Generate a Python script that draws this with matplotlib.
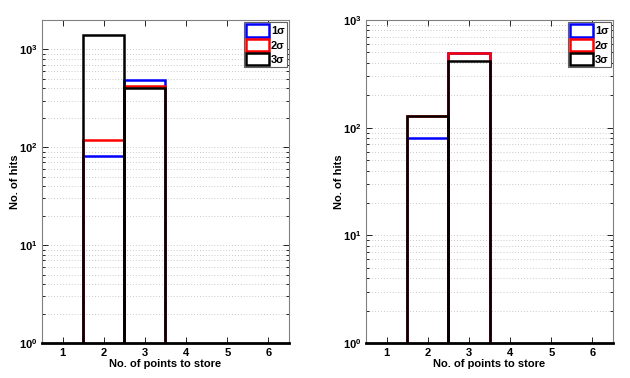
import math

import matplotlib

matplotlib.use("Agg")
import matplotlib.pyplot as plt
from matplotlib.ticker import FuncFormatter, LogLocator

plt.rcParams["font.family"] = ["Liberation Sans", "DejaVu Sans"]
plt.rcParams["font.weight"] = "bold"
plt.rcParams["mathtext.fontset"] = "custom"
plt.rcParams["mathtext.bf"] = "Liberation Sans:bold"
plt.rcParams["mathtext.rm"] = "Liberation Sans:bold"

bins = [1, 2, 3, 4, 5, 6]
labels = ["1\u03c3", "2\u03c3", "3\u03c3"]
colors = ["#0000ff", "#ff0000", "#000000"]

# left panel: hits per number of stored points
left_1s = [0, 81, 490, 0, 0, 0]
left_2s = [0, 118, 427, 0, 0, 0]
left_3s = [0, 1410, 400, 0, 0, 0]

# right panel
right_1s = [0, 80, 497, 0, 0, 0]
right_2s = [0, 129, 497, 0, 0, 0]
right_3s = [0, 129, 414, 0, 0, 0]

W, H = 630, 378
fig = plt.figure(figsize=(6.3, 3.78), dpi=100)
ax_l = fig.add_axes([42 / W, 1 - 343 / H, 247 / W, 323 / H])
ax_r = fig.add_axes([366 / W, 1 - 343 / H, 247 / W, 323 / H])


def draw(ax, series, ytop):
    for vals, lab, c in zip(series, labels, colors):
        ax.bar(bins, vals, width=1, fill=False, edgecolor=c, linewidth=1.8, label=lab)
    ax.set_yscale("log")
    ax.set_xlim(0.5, 6.5)
    ax.set_ylim(1, ytop)
    ax.set_xticks(bins)
    ax.yaxis.set_major_locator(LogLocator(base=10))
    ax.yaxis.set_minor_locator(LogLocator(base=10, subs=range(2, 10)))
    ax.yaxis.set_major_formatter(
        FuncFormatter(lambda v, p: r"$\mathbf{10^{%d}}$" % round(math.log10(v))))
    ax.yaxis.grid(True, which="both", linestyle=(0, (1, 2.5)), color="#b8b8b8", linewidth=0.6)
    ax.set_axisbelow(True)
    ax.tick_params(which="both", direction="in", top=True, right=True, labelsize=8,
                   colors="#000000", width=0.6)
    ax.tick_params(which="major", length=4)
    ax.tick_params(which="minor", length=2)
    for s in ["left", "top", "right"]:
        ax.spines[s].set_color("#808080")
        ax.spines[s].set_linewidth(0.8)
    ax.spines["bottom"].set_color("#000000")
    ax.spines["bottom"].set_linewidth(2)
    for t in ax.get_xticklabels():
        t.set_fontweight("bold")
    ax.set_xlabel("No. of points to store", fontsize=8, fontweight="bold", labelpad=1)
    ax.set_ylabel("No. of hits", fontsize=8, fontweight="bold", labelpad=-1)
    leg = ax.legend(loc="upper right", fontsize=8, handlelength=2.0, handleheight=1.3,
                    borderpad=0.2, labelspacing=0.2, handletextpad=0.2, borderaxespad=0.2,
                    fancybox=False, framealpha=1)
    leg.get_frame().set_edgecolor("#606060")
    leg.get_frame().set_linewidth(0.8)
    for t in leg.get_texts():
        t.set_fontweight("bold")


draw(ax_l, [left_1s, left_2s, left_3s], 2000)
draw(ax_r, [right_1s, right_2s, right_3s], 1000)

fig.savefig("out.png", dpi=100)
